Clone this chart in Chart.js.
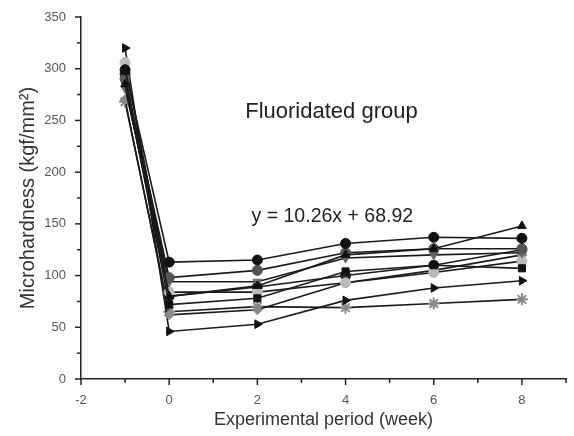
<!DOCTYPE html>
<html>
<head>
<meta charset="utf-8">
<script src="https://cdn.jsdelivr.net/npm/chart.js@4"></script>
<style>
  html, body { margin: 0; padding: 0; background: #fff; }
  #wrap { width: 574px; height: 436px; }
</style>
</head>
<body>
<div id="wrap"><canvas id="hardChart"></canvas></div>
<script>
// weeks (x) and microhardness values per specimen
const weeks = [-1, 0, 2, 4, 6, 8];
const s1  = [299, 113, 115, 131, 137, 136];
const s2  = [285, 80, 90, 120, 126, 148];
const s3  = [290, 98, 105, 122, 126, 126];
const s4  = [281, 94, 94, 117, 120, 122];
const s5  = [289, 72, 78, 104, 110, 107];
const s6  = [306, 84, 84, 93, 103, 114];
const s7  = [295, 80, 89, 100, 110, 125];
const s8  = [270, 62, 67, 93, 105, 120];
const s9  = [320, 46, 53, 76, 88, 95];
const s10 = [268, 65, 70, 69, 73, 77];
const xTicks = [-2, 0, 2, 4, 6, 8];

const title = 'Fluoridated group';
const equation = 'y = 10.26x + 68.92';

const series = [
  { data: s1,  color: '#111', style: 'circle',   rot: 0 },
  { data: s2,  color: '#111', style: 'triangle', rot: 0 },
  { data: s3,  color: '#555', style: 'circle',   rot: 0 },
  { data: s4,  color: '#666', style: 'triangle', rot: 180 },
  { data: s5,  color: '#111', style: 'rect',     rot: 0 },
  { data: s6,  color: '#bbb', style: 'circle',   rot: 0 },
  { data: s7,  color: '#222', style: 'circle',   rot: 0 },
  { data: s8,  color: '#888', style: 'rectRot',  rot: 0 },
  { data: s9,  color: '#111', style: 'triangle', rot: 90 },
  { data: s10, color: '#888', style: 'star',     rot: 0 }
];

const datasets = series.map(s => ({
  data: s.data.map((v, i) => ({ x: weeks[i], y: v })),
  borderColor: '#1a1a1a',
  borderWidth: 1.6,
  backgroundColor: s.color,
  pointBorderColor: s.color,
  pointBackgroundColor: s.color,
  pointStyle: s.style,
  pointRotation: s.rot,
  pointRadius: s.style === 'star' ? 6 : 5,
  pointBorderWidth: s.style === 'star' ? 2 : 1,
  tension: 0
}));

const font = 'Arial, "Liberation Sans"';

// major + minor ticks drawn outward from the axes, plus the annotations
const tickMarks = {
  id: 'tickMarks',
  afterDraw(chart) {
    const { ctx, scales: { x, y } } = chart;
    ctx.save();
    ctx.strokeStyle = '#222';
    ctx.lineWidth = 1.5;
    for (let v = -2; v <= 9; v++) {
      const px = x.getPixelForValue(v);
      const len = v % 2 === 0 ? 6 : 4;
      ctx.beginPath();
      ctx.moveTo(px, y.bottom);
      ctx.lineTo(px, y.bottom + len);
      ctx.stroke();
    }
    for (let v = 0; v <= 350; v += 25) {
      const py = y.getPixelForValue(v);
      const len = v % 50 === 0 ? 6 : 4;
      ctx.beginPath();
      ctx.moveTo(x.left, py);
      ctx.lineTo(x.left - len, py);
      ctx.stroke();
    }
    ctx.fillStyle = '#222';
    ctx.textAlign = 'center';
    ctx.textBaseline = 'middle';
    ctx.font = '22px ' + font;
    ctx.fillText(title, x.getPixelForValue(3.68), y.getPixelForValue(258));
    ctx.font = '19.5px ' + font;
    ctx.fillText(equation, x.getPixelForValue(3.7), y.getPixelForValue(157));
    ctx.restore();
  }
};

new Chart(document.getElementById('hardChart').getContext('2d'), {
  type: 'line',
  data: { datasets },
  options: {
    responsive: true,
    maintainAspectRatio: false,
    animation: false,
    layout: { padding: { top: 17, right: 1, left: 0, bottom: 0 } },
    plugins: { legend: { display: false }, tooltip: { enabled: false } },
    scales: {
      x: {
        type: 'linear',
        min: -2,
        max: 9,
        afterBuildTicks: s => { s.ticks = xTicks.map(v => ({ value: v })); },
        afterFit: s => { s.height = 57; },
        grid: { display: false },
        border: { display: true, color: '#222', width: 1.5 },
        ticks: { padding: 6, color: '#555', font: { family: font, size: 13 } },
        title: {
          display: true,
          text: 'Experimental period (week)',
          color: '#333',
          font: { family: font, size: 18 },
          padding: { bottom: 5 }
        }
      },
      y: {
        min: 0,
        max: 350,
        ticks: { stepSize: 50, padding: 7, color: '#555', font: { family: font, size: 13 } },
        afterFit: s => { s.width = 81; },
        grid: { display: false },
        border: { display: true, color: '#222', width: 1.5 },
        title: {
          display: true,
          text: 'Microhardness (kgf/mm²)',
          color: '#333',
          font: { family: font, size: 20 },
          padding: { top: 16 }
        }
      }
    }
  },
  plugins: [tickMarks]
});
</script>
</body>
</html>
